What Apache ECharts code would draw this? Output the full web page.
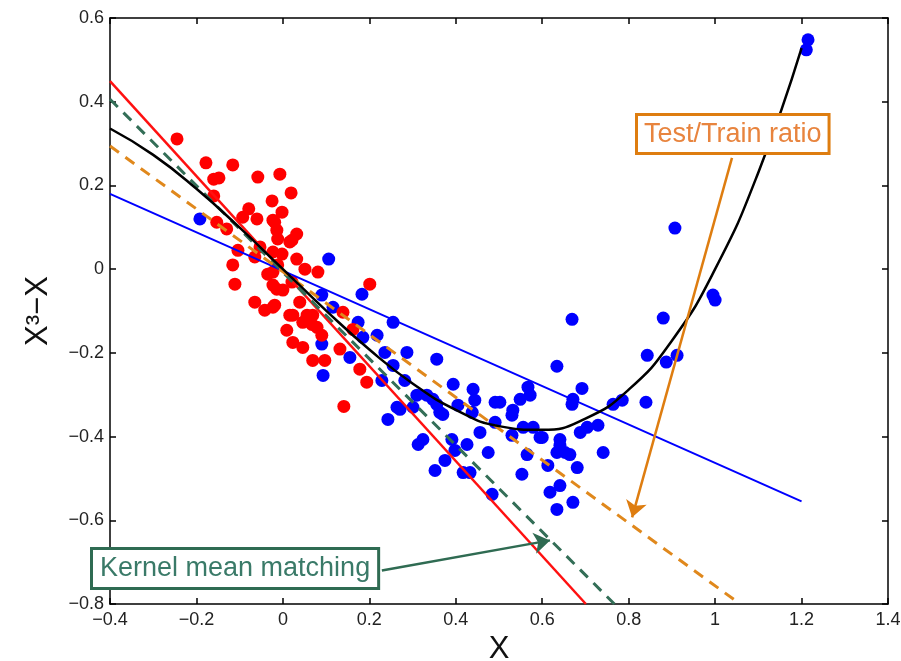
<!DOCTYPE html>
<html>
<head>
<meta charset="utf-8">
<script src="https://cdn.jsdelivr.net/npm/echarts@6/dist/echarts.min.js"></script>
<style>
html,body{margin:0;padding:0;background:#fff;}
#chart{width:901px;height:661px;}
</style>
</head>
<body>
<div id="chart"></div>
<script>
// ---- data ----
const xTicks = [-0.4, -0.2, 0, 0.2, 0.4, 0.6, 0.8, 1, 1.2, 1.4];
const yTicks = [-0.8, -0.6, -0.4, -0.2, 0, 0.2, 0.4, 0.6];

const trainPoints = [
 [-0.245,0.311],[-0.178,0.254],[-0.116,0.249],[-0.160,0.215],[-0.148,0.218],[-0.058,0.220],[-0.007,0.227],
 [0.019,0.182],[-0.160,0.175],[-0.025,0.163],[-0.079,0.144],[-0.002,0.136],[-0.093,0.124],[-0.060,0.120],
 [-0.153,0.112],[-0.130,0.096],[-0.023,0.117],[-0.014,0.093],[0.032,0.084],[0.021,0.069],[-0.104,0.045],
 [-0.053,0.053],[-0.065,0.029],[-0.116,0.010],[-0.002,0.036],[-0.012,0.010],[0.032,0.024],[0.051,0.0],
 [0.081,-0.007],[-0.035,-0.012],[-0.111,-0.036],[-0.023,-0.038],[0.021,-0.031],[0.0,-0.050],[0.201,-0.036],
 [-0.065,-0.079],[-0.042,-0.098],[-0.019,-0.086],[0.039,-0.079],[0.023,-0.110],[0.046,-0.127],[0.009,-0.146],
 [0.069,-0.110],[0.079,-0.139],[0.090,-0.158],[0.023,-0.175],[0.046,-0.187],[0.069,-0.218],[0.097,-0.218],
 [0.132,-0.191],[0.162,-0.144],[0.178,-0.239],[0.194,-0.270],[0.139,-0.103],[0.141,-0.328],[-0.019,0.112],
 [-0.012,0.072],[0.016,0.065],[-0.023,0.041],[-0.023,-0.007],[-0.014,-0.048],[-0.023,-0.091],[0.016,-0.110],
 [0.056,-0.110],[0.067,-0.132]
];

const testPoints = [
 [-0.192,0.120],[0.106,0.024],[0.183,-0.060],[0.090,-0.062],[0.255,-0.127],[0.174,-0.127],[0.116,-0.091],
 [0.218,-0.158],[0.185,-0.163],[0.287,-0.199],[0.236,-0.199],[0.155,-0.211],[0.356,-0.215],[0.669,-0.120],
 [0.634,-0.232],[0.843,-0.206],[0.090,-0.179],[0.093,-0.254],[0.255,-0.230],[0.229,-0.266],[0.282,-0.266],
 [0.394,-0.275],[0.440,-0.287],[0.444,-0.313],[0.491,-0.318],[0.502,-0.318],[0.549,-0.311],[0.567,-0.282],
 [0.572,-0.301],[0.532,-0.337],[0.530,-0.349],[0.692,-0.285],[0.669,-0.323],[0.671,-0.311],[0.785,-0.313],
 [0.764,-0.323],[0.310,-0.301],[0.333,-0.301],[0.347,-0.311],[0.264,-0.330],[0.243,-0.359],[0.271,-0.335],
 [0.301,-0.330],[0.356,-0.323],[0.363,-0.342],[0.370,-0.347],[0.405,-0.325],[0.438,-0.342],[0.456,-0.390],
 [0.491,-0.366],[0.530,-0.397],[0.556,-0.378],[0.579,-0.378],[0.595,-0.402],[0.641,-0.407],[0.688,-0.390],
 [0.704,-0.378],[0.729,-0.373],[0.741,-0.438],[0.641,-0.421],[0.653,-0.438],[0.664,-0.443],[0.634,-0.438],
 [0.565,-0.443],[0.475,-0.438],[0.426,-0.419],[0.391,-0.407],[0.398,-0.433],[0.324,-0.407],[0.313,-0.419],
 [0.375,-0.457],[0.352,-0.481],[0.417,-0.486],[0.433,-0.486],[0.553,-0.490],[0.613,-0.469],[0.681,-0.474],
 [0.641,-0.517],[0.618,-0.533],[0.634,-0.574],[0.671,-0.557],[0.484,-0.538],[0.880,-0.117],[0.995,-0.062],
 [1.0,-0.074],[1.215,0.548],[1.211,0.524],[0.907,0.098],[0.887,-0.222],[0.912,-0.206],[0.840,-0.318],
 [0.600,-0.402]
];

// true-function curve (black)
const curveX = [-0.4,-0.3,-0.2,-0.1,0,0.1,0.2,0.3,0.4,0.5,0.6,0.7,0.8,0.9,1.0,1.1,1.2];
const curveY = [0.336,0.273,0.192,0.099,0,-0.099,-0.192,-0.273,-0.336,-0.375,-0.384,-0.357,-0.288,-0.171,0,0.231,0.528];

// fitted lines: endpoints
const olsLine = [[-0.4,0.180],[1.2,-0.555]];        // blue: unweighted fit
const trainLine = [[-0.4,0.449],[0.701,-0.8]];      // red: fit on training points
const kmmLine = [[-0.4,0.406],[0.767,-0.8]];        // green dashed: kernel mean matching
const ratioLine = [[-0.4,0.294],[1.058,-0.8]];      // orange dashed: test/train ratio

// annotation arrows (data coordinates)
const ratioArrow = [[1.039,0.266],[0.808,-0.593]];
const kmmArrow = [[0.229,-0.720],[0.618,-0.648]];

const labels = {ratio: 'Test/Train ratio', kmm: 'Kernel mean matching', x: 'X', y: 'X\u00b3\u2212X'};

// ---- chart ----
const fmt = v => {
  const r = Math.round(v * 10) / 10;
  if (r === 0) return '0';
  return String(r).replace('-', '\u2212');
};
const FONT = 'Liberation Sans, Arial, Helvetica, sans-serif';
const axisCommon = {
  axisLine: {show: true, onZero: false, lineStyle: {color: '#000', width: 1.5}},
  axisTick: {show: true, inside: true, length: 6, lineStyle: {color: '#000', width: 1.5}},
  splitLine: {show: false}
};

const chart = echarts.init(document.getElementById('chart'), null, {renderer: 'canvas'});
chart.setOption({
  animation: false,
  backgroundColor: '#fff',
  grid: {left: 110, right: 13, top: 18, bottom: 57, containLabel: false, outerBoundsMode: 'none'},
  xAxis: [
    Object.assign({type: 'value', min: xTicks[0], max: xTicks[xTicks.length-1], interval: 0.2, position: 'bottom',
      name: labels.x, nameLocation: 'middle', nameGap: 27,
      nameTextStyle: {fontFamily: FONT, fontSize: 31, color: '#111'},
      axisLabel: {formatter: fmt, fontFamily: FONT, fontSize: 18, color: '#222', margin: 7}}, axisCommon),
    Object.assign({type: 'value', min: xTicks[0], max: xTicks[xTicks.length-1], interval: 0.2, position: 'top',
      axisLabel: {show: false}}, axisCommon)
  ],
  yAxis: [
    Object.assign({type: 'value', min: yTicks[0], max: yTicks[yTicks.length-1], interval: 0.2, position: 'left',
      name: labels.y, nameLocation: 'middle', nameGap: 56, nameRotate: 90,
      nameTextStyle: {fontFamily: FONT, fontSize: 31, color: '#111'},
      axisLabel: {formatter: fmt, fontFamily: FONT, fontSize: 18, color: '#222', margin: 6}}, axisCommon),
    Object.assign({type: 'value', min: yTicks[0], max: yTicks[yTicks.length-1], interval: 0.2, position: 'right',
      axisLabel: {show: false}}, axisCommon)
  ],
  series: [
    {type: 'scatter', data: testPoints, symbolSize: 13, itemStyle: {color: '#0000ff', opacity: 1}, z: 2, silent: true},
    {type: 'scatter', data: trainPoints, symbolSize: 13, itemStyle: {color: '#ff0000', opacity: 1}, z: 3, silent: true},
    {type: 'line', data: olsLine, symbol: 'none', lineStyle: {color: '#0000ff', width: 2}, z: 4, silent: true},
    {type: 'line', data: trainLine, symbol: 'none', lineStyle: {color: '#ff1010', width: 2.5}, z: 4, silent: true},
    {type: 'line', data: kmmLine, symbol: 'none', lineStyle: {color: '#336e57', width: 3, type: [11, 8]}, z: 4, silent: true},
    {type: 'line', data: ratioLine, symbol: 'none', lineStyle: {color: '#e0881c', width: 3, type: [11, 8]}, z: 4, silent: true},
    {type: 'line', data: curveX.map((x, i) => [x, curveY[i]]), symbol: 'none', smooth: true,
      lineStyle: {color: '#000', width: 2.5}, z: 5, silent: true},
    {type: 'lines', coordinateSystem: 'cartesian2d', symbol: ['none', 'arrow'], symbolSize: 16, z: 6, silent: true,
      lineStyle: {color: '#de7d10', width: 2.5, opacity: 1, curveness: 0},
      data: [{coords: ratioArrow}]},
    {type: 'lines', coordinateSystem: 'cartesian2d', symbol: ['none', 'arrow'], symbolSize: 16, z: 6, silent: true,
      lineStyle: {color: '#2f6b52', width: 2.5, opacity: 1, curveness: 0},
      data: [{coords: kmmArrow}]}
  ],
  graphic: [
    {type: 'text', left: 635, top: 113, z: 100, silent: true,
      style: {text: labels.ratio, font: '27px ' + FONT, fill: '#e8843e',
        backgroundColor: '#fff', borderColor: '#de7d10', borderWidth: 3, padding: [5, 6, 4, 6]}},
    {type: 'text', left: 90, top: 547, z: 100, silent: true,
      style: {text: labels.kmm, font: '27px ' + FONT, fill: '#3a7a68',
        backgroundColor: '#fff', borderColor: '#2f6b52', borderWidth: 3, padding: [5, 7, 5, 7]}}
  ]
});
</script>
</body>
</html>
